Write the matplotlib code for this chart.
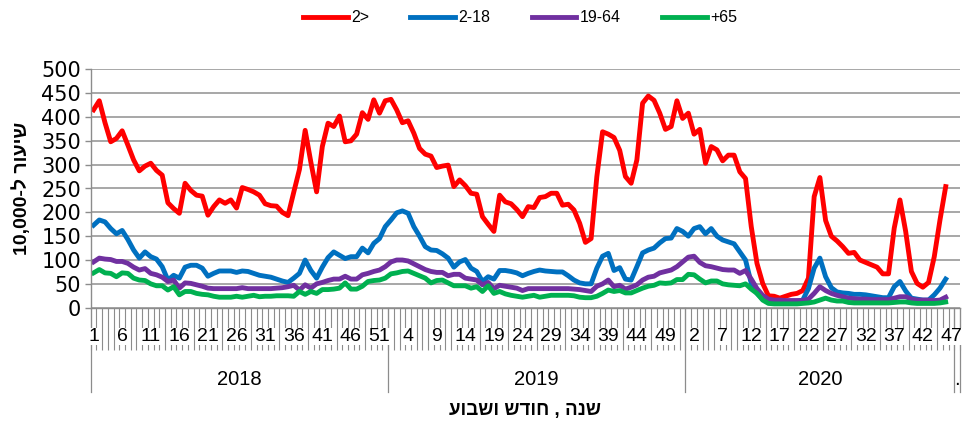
import numpy as np
import matplotlib.pyplot as plt
from matplotlib import transforms
import re

# ---------------- data (weekly rate per 10,000) ----------------
YEARS = ["2018", "2019", "2020", "."]
YEAR_WEEKS = [52, 52, 47, 1]          # categories in each year group
SERIES_NAMES = ["2>", "2-18", "19-64", "+65"]

under2 = [415, 434, 388, 348, 355, 371, 341, 310, 287, 297, 303, 288, 278, 220, 208, 198, 261, 246, 236, 234,
          194, 212, 226, 219, 226, 209, 252, 248, 243, 236, 218, 214, 213, 200, 193, 242, 290, 372, 305, 243,
          338, 387, 380, 402, 348, 350, 364, 409, 395, 436, 408, 434,
          437, 415, 388, 392, 366, 334, 322, 318, 294, 297, 299, 254, 268, 256, 240, 238, 191, 175, 160, 236,
          222, 218, 206, 191, 212, 210, 231, 233, 240, 240, 215, 217, 205, 177, 137, 145, 275, 369, 364, 357,
          330, 275, 261, 310, 429, 444, 435, 408, 374, 380, 434, 397,
          408, 364, 374, 303, 338, 331, 308, 320, 320, 285, 271, 170, 93, 51, 25, 24, 20, 24, 28, 30,
          36, 62, 233, 273, 183, 150, 140, 128, 114, 116, 100, 95, 90, 85, 71, 71, 167, 226, 160, 76,
          51, 43, 53, 107, 184, 254]

age2_18 = [173, 184, 180, 166, 155, 162, 143, 121, 104, 117, 107, 102, 86, 58, 68, 62, 85, 89, 89, 83,
           66, 72, 77, 77, 77, 74, 77, 76, 72, 68, 66, 64, 60, 56, 53, 62, 72, 100, 78, 62,
           85, 105, 117, 110, 103, 107, 107, 125, 115, 135, 145, 170,
           184, 199, 203, 198, 170, 150, 128, 121, 120, 113, 104, 85, 96, 101, 83, 76, 55, 65, 60, 78,
           78, 76, 73, 67, 72, 76, 79, 77, 76, 75, 75, 67, 58, 52, 50, 50, 83, 108, 114, 78,
           84, 60, 58, 86, 115, 121, 125, 136, 145, 146, 166, 160,
           150, 166, 170, 155, 166, 150, 142, 138, 134, 117, 100, 51, 30, 18, 14, 13, 13, 13, 14, 14,
           16, 40, 83, 104, 65, 42, 33, 31, 30, 28, 28, 27, 25, 23, 21, 21, 44, 55, 35, 20,
           18, 16, 16, 27, 41, 60]

age19_64 = [96, 104, 102, 101, 97, 97, 93, 85, 79, 82, 72, 69, 64, 55, 58, 41, 52, 51, 48, 45,
            41, 40, 40, 40, 40, 40, 42, 40, 40, 40, 40, 40, 41, 42, 44, 47, 37, 48, 41, 50,
            53, 57, 60, 60, 66, 60, 60, 69, 72, 76, 79, 86,
            96, 100, 100, 98, 92, 86, 80, 76, 74, 74, 67, 70, 70, 62, 60, 58, 48, 53, 40, 47,
            45, 43, 41, 36, 40, 40, 40, 40, 40, 40, 40, 40, 39, 38, 36, 34, 45, 50, 58, 44,
            47, 39, 43, 48, 58, 64, 66, 73, 76, 79, 86, 96,
            106, 108, 95, 88, 86, 83, 80, 79, 79, 72, 78, 60, 40, 26, 18, 16, 16, 15, 15, 15,
            15, 18, 30, 44, 36, 30, 26, 23, 20, 19, 18, 18, 17, 17, 17, 17, 20, 23, 23, 18,
            16, 16, 16, 15, 16, 22]

over65 = [73, 80, 73, 72, 65, 73, 72, 62, 58, 57, 50, 46, 46, 37, 44, 27, 34, 34, 30, 28,
          27, 24, 22, 22, 22, 24, 22, 24, 26, 23, 24, 24, 25, 25, 25, 24, 34, 28, 34, 30,
          38, 38, 39, 41, 52, 39, 39, 45, 55, 57, 58, 62,
          71, 73, 76, 77, 72, 67, 62, 52, 57, 58, 52, 46, 46, 46, 41, 44, 34, 46, 30, 34,
          29, 26, 24, 22, 24, 26, 22, 24, 26, 26, 26, 26, 25, 22, 21, 21, 24, 30, 37, 34,
          36, 31, 31, 36, 41, 45, 47, 52, 51, 52, 59, 59,
          70, 69, 60, 52, 56, 56, 50, 48, 47, 46, 50, 39, 30, 16, 9, 8, 8, 8, 8, 8,
          9, 10, 12, 16, 20, 16, 14, 14, 11, 10, 10, 10, 10, 10, 10, 10, 11, 12, 12, 10,
          9, 9, 9, 9, 10, 12]

COLORS = ["#FF0000", "#0070C0", "#7030A0", "#00B050"]
GRID_C = "#A0A0A0"
AXIS_C = "#8C8C8C"

Y_LABEL = "שיעור ל-10,000"
X_LABEL = "שנה , חודש ושבוע"


def visual(s):
    """matplotlib has no bidi: reverse the Hebrew, keep number runs readable"""
    r = s[::-1]
    return re.sub(r"[0-9][0-9,.]*", lambda m: m.group(0)[::-1], r)


# ---------------- build categories ----------------
weeks = []
for n_wk, yr in zip(YEAR_WEEKS, YEARS):
    weeks += [str(w) for w in range(1, n_wk + 1)] if yr != "." else [""]
n_cat = len(weeks)
xs = np.arange(n_cat) + 0.5


def pad(vals):
    out = np.full(n_cat, np.nan)
    out[:len(vals)] = vals
    return out


W, H = 966, 423
fig = plt.figure(figsize=(W / 100, H / 100), dpi=100)
ax = fig.add_axes([90.7 / W, 1 - 307.7 / H, (960 - 90.7) / W, 238.4 / H])

handles = []
for name, vals, c in zip(SERIES_NAMES, [under2, age2_18, age19_64, over65], COLORS):
    h, = ax.plot(xs, pad(vals), color=c, lw=3.5, label=name, solid_joinstyle="round")
    handles.append(h)

ax.set_xlim(0, n_cat)
ax.set_ylim(0, 500)
ax.set_yticks(np.arange(0, 501, 50))
ax.yaxis.grid(True, color=GRID_C, lw=1.3)
ax.set_axisbelow(True)
for sp in ["top", "right"]:
    ax.spines[sp].set_visible(False)
for sp in ["left", "bottom"]:
    ax.spines[sp].set_color(AXIS_C)
    ax.spines[sp].set_linewidth(1.0)
ax.tick_params(axis="y", colors=AXIS_C, length=4, width=1.0, pad=3, labelcolor="black")
for t in ax.get_yticklabels():
    t.set_fontfamily("DejaVu Sans")
    t.set_fontsize(15)

ax.set_xticks([])
trans = transforms.blended_transform_factory(ax.transData, ax.transAxes)

# category comb: a short line between every week
ax.vlines(np.arange(0, n_cat + 1), -0.176, 0, transform=trans, colors=AXIS_C, lw=0.8,
          clip_on=False, zorder=1)

for i in range(0, n_cat, 5):
    if weeks[i]:
        ax.text(i + 0.5, -0.122, weeks[i], transform=trans, ha="center", va="center",
                fontsize=14, family="Liberation Sans", zorder=5,
                bbox=dict(facecolor="white", edgecolor="none", pad=0.2))

# year groups
start = 0
bounds = [0]
for yr, n_wk in zip(YEARS, YEAR_WEEKS):
    ax.text(start + n_wk / 2, -0.303, yr, transform=trans, ha="center", va="center",
            fontsize=14.5, family="Liberation Sans")
    start += n_wk
    bounds.append(start)
for b in bounds:
    ax.plot([b, b], [0, -0.352], transform=trans, color=AXIS_C, lw=0.9, clip_on=False)

fig.text(22 / W, 1 - 188.5 / H, visual(Y_LABEL), rotation=90, ha="center", va="center",
         fontsize=14, fontweight="bold", family=["Liberation Sans", "DejaVu Sans"])
fig.text(525 / W, 1 - 410 / H, visual(X_LABEL), ha="center", va="center",
         fontsize=13.5, fontweight="bold", family=["Liberation Sans", "DejaVu Sans"])

fig.legend(handles=handles, loc="center", bbox_to_anchor=(520 / W, 1 - 18 / H), ncol=4,
           frameon=False, handlelength=2.8, handletextpad=0.2,
           columnspacing=2.6, prop={"family": "Liberation Sans", "size": 11.5})

fig.savefig("out.png", dpi=100)
